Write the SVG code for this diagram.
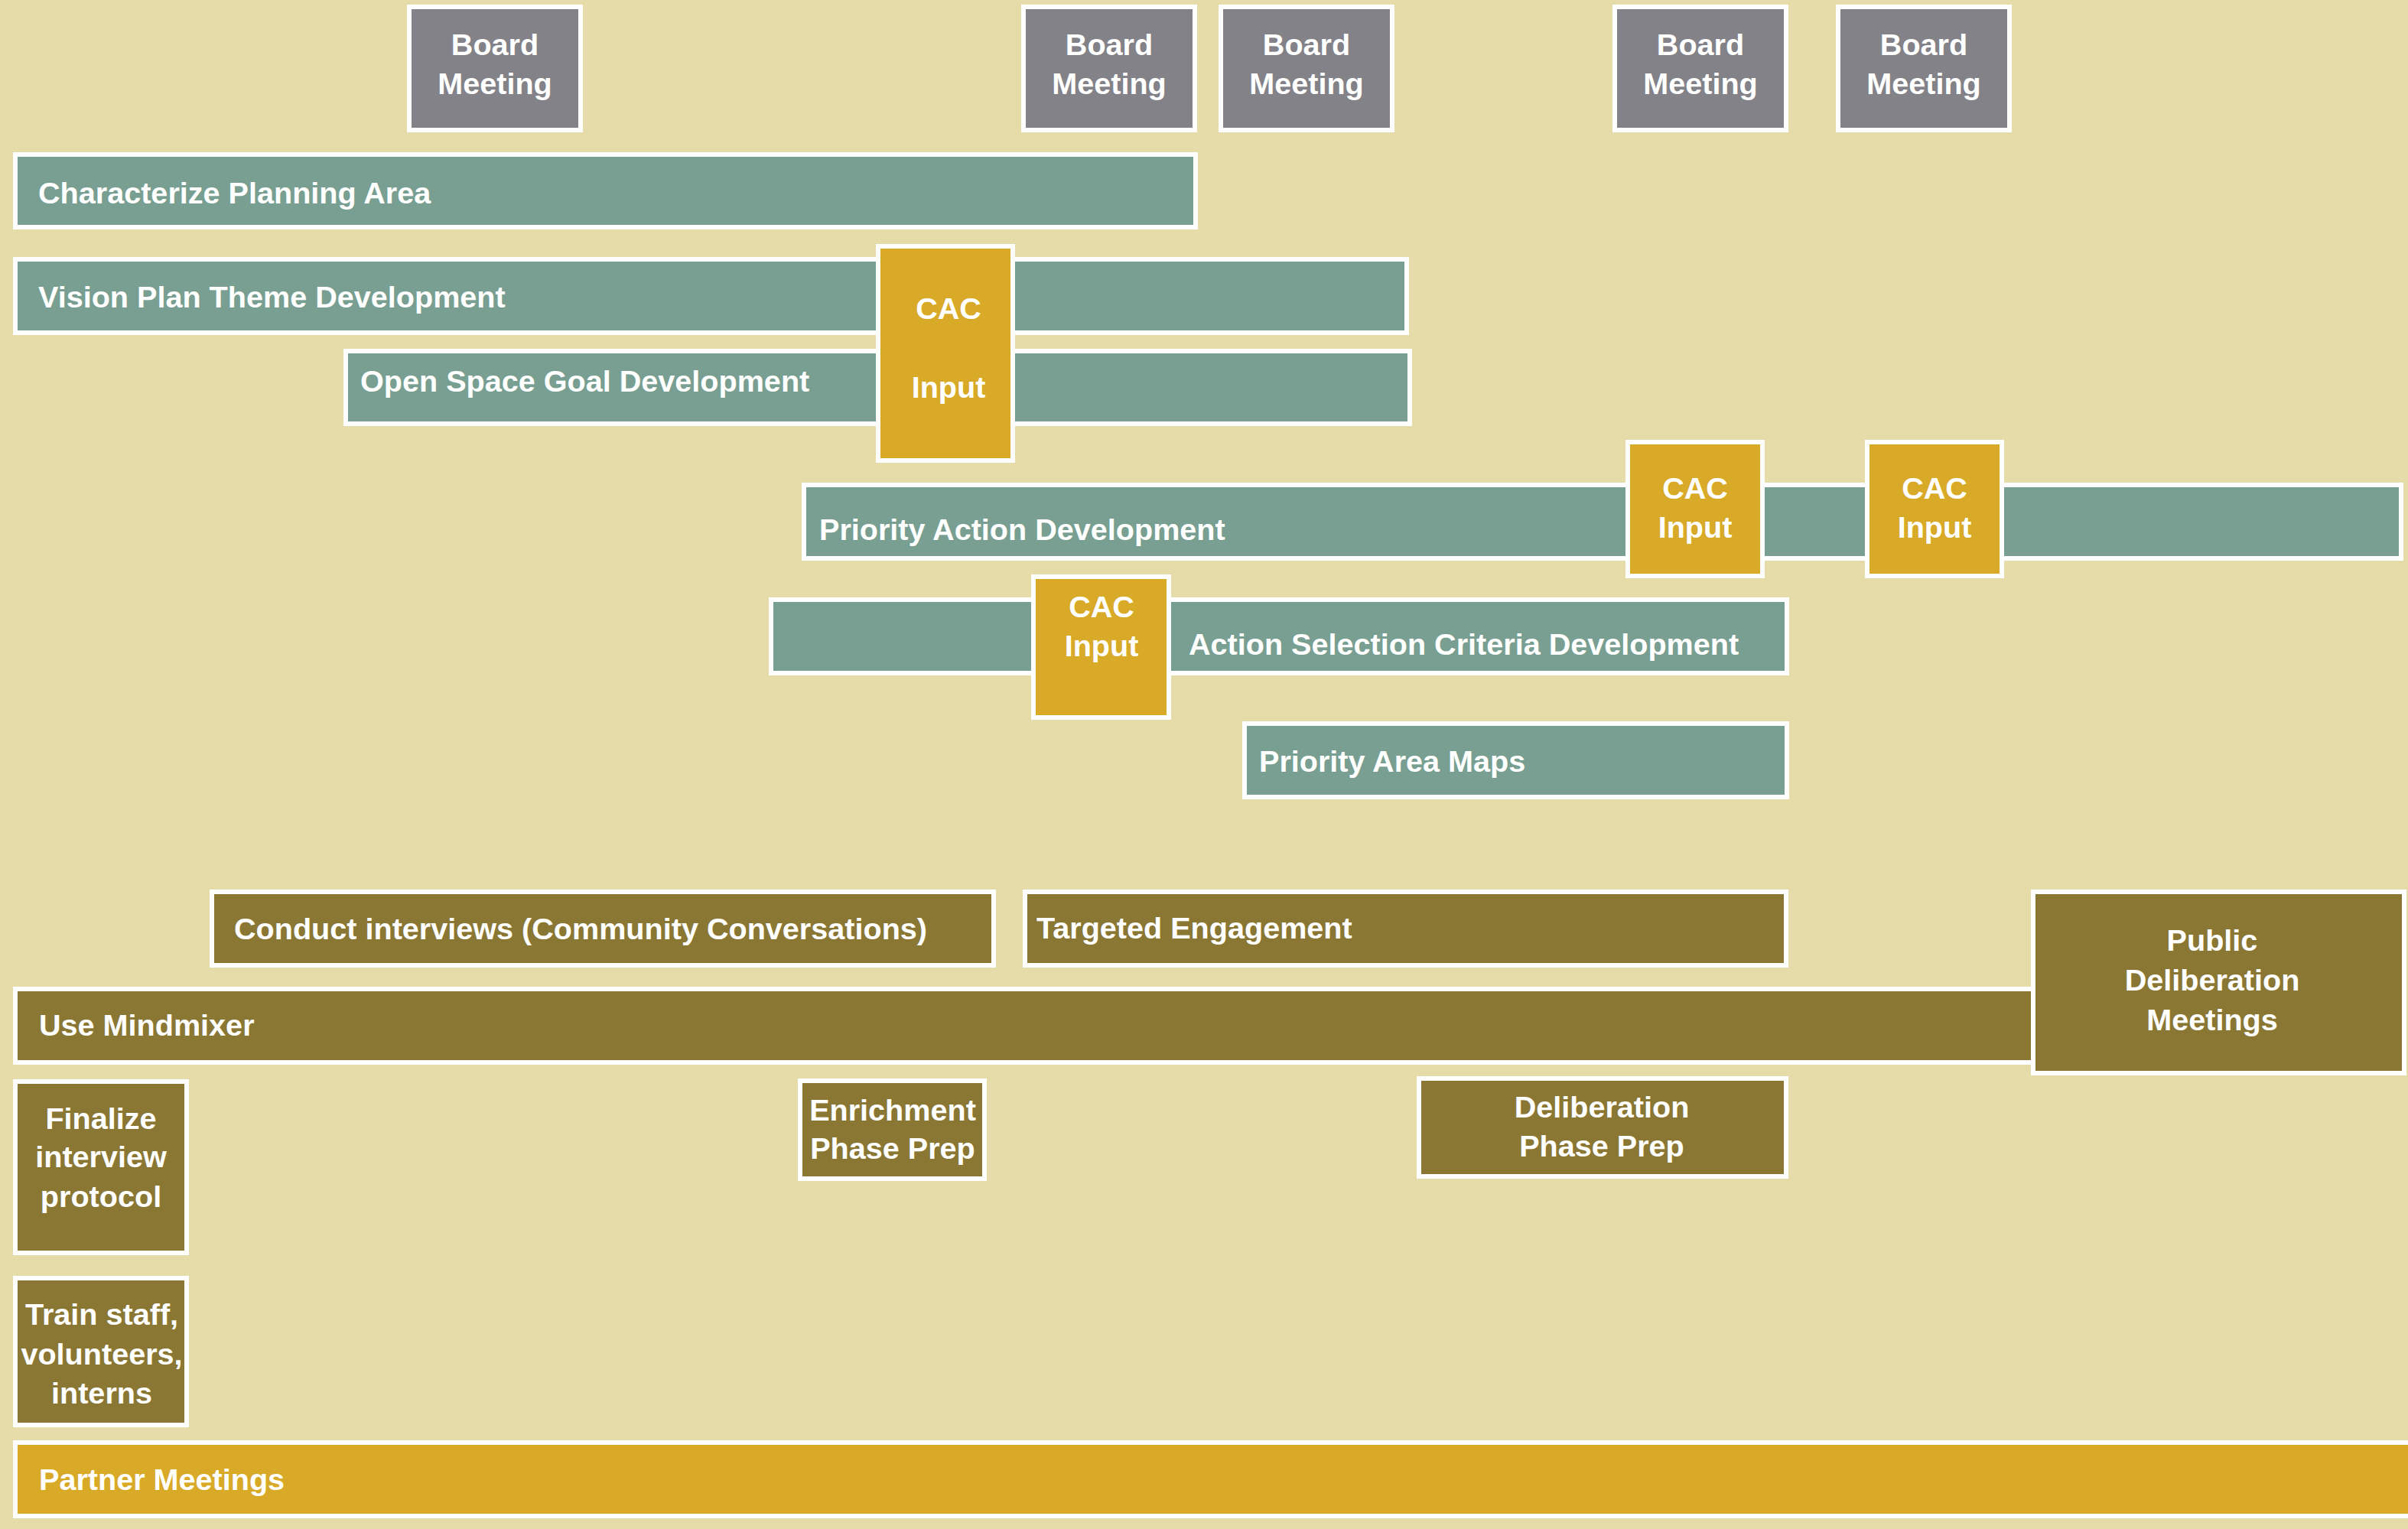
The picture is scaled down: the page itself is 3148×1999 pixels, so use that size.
<svg xmlns="http://www.w3.org/2000/svg" width="3148" height="1999" viewBox="0 0 3148 1999">
<style>
rect{stroke:#FFFFFF;stroke-width:6}
.bg{stroke:none;fill:#E6DCAA}
.board{fill:#828288}
.teal{fill:#789F91}
.gold{fill:#D8AA28}
.olive{fill:#8B7734}
text{font-family:"Liberation Sans",Arial,sans-serif;font-weight:bold;font-size:39.6px;fill:#FFFFFF}
.c{text-anchor:middle}
</style>
<rect class="bg" x="0" y="0" width="3148" height="1999"/>
<g id="connectors"/>
<g id="board1"><rect class="board" x="535" y="9" width="224" height="161"/><text class="c" x="647" y="72">Board</text><text class="c" x="647" y="123">Meeting</text></g>
<g id="board2"><rect class="board" x="1338" y="9" width="224" height="161"/><text class="c" x="1450" y="72">Board</text><text class="c" x="1450" y="123">Meeting</text></g>
<g id="board3"><rect class="board" x="1596" y="9" width="224" height="161"/><text class="c" x="1708" y="72">Board</text><text class="c" x="1708" y="123">Meeting</text></g>
<g id="board4"><rect class="board" x="2111" y="9" width="224" height="161"/><text class="c" x="2223" y="72">Board</text><text class="c" x="2223" y="123">Meeting</text></g>
<g id="board5"><rect class="board" x="2403" y="9" width="224" height="161"/><text class="c" x="2515" y="72">Board</text><text class="c" x="2515" y="123">Meeting</text></g>
<g id="characterize"><rect class="teal" x="20" y="202" width="1543" height="95"/><text x="50" y="266">Characterize Planning Area</text></g>
<g id="vision"><rect class="teal" x="20" y="339" width="1819" height="96"/><text x="50" y="402">Vision Plan Theme Development</text></g>
<g id="openspace"><rect class="teal" x="452" y="459" width="1391" height="95"/><text x="471" y="512">Open Space Goal Development</text></g>
<g id="cac1"><rect class="gold" x="1148" y="322" width="176" height="280"/><text class="c" x="1240" y="417">CAC</text><text class="c" x="1240" y="520">Input</text></g>
<g id="priorityaction"><rect class="teal" x="1051" y="634" width="2088" height="96"/><text x="1071" y="706">Priority Action Development</text></g>
<g id="cac2"><rect class="gold" x="2128" y="578" width="176" height="175"/><text class="c" x="2216" y="652">CAC</text><text class="c" x="2216" y="703">Input</text></g>
<g id="cac3"><rect class="gold" x="2441" y="578" width="176" height="175"/><text class="c" x="2529" y="652">CAC</text><text class="c" x="2529" y="703">Input</text></g>
<g id="actionselection"><rect class="teal" x="1008" y="784" width="1328" height="96"/><text x="1554" y="856">Action Selection Criteria Development</text></g>
<g id="cac4"><rect class="gold" x="1351" y="754" width="177" height="184"/><text class="c" x="1440" y="807">CAC</text><text class="c" x="1440" y="858">Input</text></g>
<g id="priorityarea"><rect class="teal" x="1627" y="946" width="709" height="96"/><text x="1646" y="1009">Priority Area Maps</text></g>
<g id="conduct"><rect class="olive" x="277" y="1166" width="1022" height="96"/><text x="306" y="1228">Conduct interviews (Community Conversations)</text></g>
<g id="targeted"><rect class="olive" x="1340" y="1166" width="995" height="96"/><text x="1355" y="1227">Targeted Engagement</text></g>
<g id="mindmixer"><rect class="olive" x="20" y="1293" width="2640" height="96"/><text x="51" y="1354">Use Mindmixer</text></g>
<g id="public"><rect class="olive" x="2658" y="1166" width="485" height="237"/><text class="c" x="2892" y="1243">Public</text><text class="c" x="2892" y="1295">Deliberation</text><text class="c" x="2892" y="1347">Meetings</text></g>
<g id="finalize"><rect class="olive" x="20" y="1414" width="224" height="224"/><text class="c" x="132" y="1476">Finalize</text><text class="c" x="132" y="1526">interview</text><text class="c" x="132" y="1578">protocol</text></g>
<g id="enrichment"><rect class="olive" x="1046" y="1413" width="241" height="128"/><text class="c" x="1167" y="1465">Enrichment</text><text class="c" x="1167" y="1515">Phase Prep</text></g>
<g id="deliberationprep"><rect class="olive" x="1855" y="1410" width="480" height="128"/><text class="c" x="2094" y="1461">Deliberation</text><text class="c" x="2094" y="1512">Phase Prep</text></g>
<g id="train"><rect class="olive" x="20" y="1671" width="224" height="192"/><text class="c" x="133" y="1732">Train staff,</text><text class="c" x="133" y="1784">volunteers,</text><text class="c" x="133" y="1835">interns</text></g>
<g id="partner"><rect class="gold" x="20" y="1886" width="3140" height="96"/><text x="51" y="1948">Partner Meetings</text></g>
</svg>
